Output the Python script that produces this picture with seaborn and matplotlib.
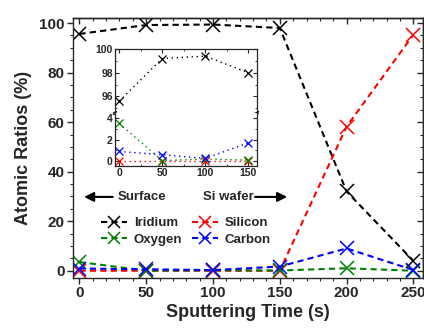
import seaborn as sns
import matplotlib.pyplot as plt
from matplotlib.ticker import MultipleLocator

# sputtering depth profile
time = [0, 50, 100, 150, 200, 250]
iridium = [95.6, 99.2, 99.4, 98.0, 32.0, 4.0]
silicon = [0.0, 0.0, 0.0, 0.0, 58.2, 95.3]
oxygen = [3.5, 0.05, 0.2, 0.1, 1.0, 0.0]
carbon = [0.9, 0.6, 0.25, 1.7, 9.0, 0.3]

names = ["Iridium", "Silicon", "Oxygen", "Carbon"]
series = [iridium, silicon, oxygen, carbon]
colors = ["#000000", "#ff0000", "#008000", "#0000ff"]

sns.set_style("ticks")
plt.rcParams["font.family"] = ["Liberation Sans", "DejaVu Sans"]
plt.rcParams["font.weight"] = "bold"
plt.rcParams["axes.labelweight"] = "bold"
plt.rcParams["axes.linewidth"] = 1.0

fig = plt.figure(figsize=(4.24, 3.29), dpi=100)
ax = fig.add_axes([0.1715, 0.156, 0.8255, 0.789])

lines = {}
for name, vals, c in zip(names, series, colors):
    sns.lineplot(x=time, y=vals, ax=ax, color=c, lw=1.5, dashes=(3, 2),
                 marker="x", markersize=10, markeredgewidth=1.1,
                 markeredgecolor=c, label=name, legend=False)
    lines[name] = ax.lines[-1]

ax.set_xlim(-5, 257)
ax.set_ylim(-2.8, 102)
ax.xaxis.set_major_locator(MultipleLocator(50))
ax.xaxis.set_minor_locator(MultipleLocator(10))
ax.yaxis.set_major_locator(MultipleLocator(20))
ax.yaxis.set_minor_locator(MultipleLocator(5))
ax.tick_params(which="major", direction="out", length=4, width=1, labelsize=11, pad=2)
ax.tick_params(which="minor", direction="out", length=2, width=0.8)

# mirrored ticks on top / right pointing inwards
top = ax.secondary_xaxis("top")
top.xaxis.set_major_locator(MultipleLocator(50))
top.xaxis.set_minor_locator(MultipleLocator(10))
top.tick_params(which="major", direction="in", length=4, width=1, labeltop=False)
top.tick_params(which="minor", direction="in", length=2, width=0.8)
right = ax.secondary_yaxis("right")
right.yaxis.set_major_locator(MultipleLocator(20))
right.yaxis.set_minor_locator(MultipleLocator(5))
right.tick_params(which="major", direction="in", length=4, width=1, labelright=False)
right.tick_params(which="minor", direction="in", length=2, width=0.8)

ax.set_xlabel("Sputtering Time (s)", fontsize=13, labelpad=3)
ax.set_ylabel("Atomic Ratios (%)", fontsize=13, labelpad=5)

# surface / substrate arrows
arrow = dict(arrowstyle="-|>", color="black", lw=1.5, mutation_scale=14,
             shrinkA=0, shrinkB=0)
ax.annotate("", xy=(3.5, 29.8), xytext=(25, 29.8), arrowprops=arrow)
ax.text(29, 29.8, "Surface", fontsize=9.5, va="center", ha="left")
ax.text(92.5, 29.8, "Si wafer", fontsize=9.5, va="center", ha="left")
ax.annotate("", xy=(155.5, 29.8), xytext=(131.5, 29.8), arrowprops=arrow)

order = ["Iridium", "Oxygen", "Silicon", "Carbon"]
ax.legend([lines[n] for n in order], order, loc="center left",
          bbox_to_anchor=(101 / 424, 1 - 231.5 / 329), bbox_transform=fig.transFigure,
          ncol=2, frameon=False, fontsize=9.5, handlelength=2.0, handletextpad=0.5,
          columnspacing=0.7, labelspacing=0.35, borderpad=0, borderaxespad=0,
          markerscale=0.9)

# inset with broken y axis
ax_hi = fig.add_axes([0.271, 0.6565, 0.335, 0.1945])
ax_lo = fig.add_axes([0.271, 0.4954, 0.335, 0.1611])
for a in (ax_hi, ax_lo):
    for name, vals, c in zip(names, series, colors):
        sns.lineplot(x=time[:4], y=vals[:4], ax=a, color=c, lw=1.0, dashes=(1, 2.6),
                     marker="x", markersize=6, markeredgewidth=0.9,
                     markeredgecolor=c, legend=False)
    a.set_xlim(-5, 160)
    a.xaxis.set_major_locator(MultipleLocator(50))
    a.xaxis.set_minor_locator(MultipleLocator(25))
    a.tick_params(which="major", direction="in", length=3, width=0.8, labelsize=7.5,
                  pad=1.5, top=True, right=True)
    a.tick_params(which="minor", direction="in", length=1.5, width=0.6, top=True, right=True)
    a.set_xlabel("")
    a.set_ylabel("")
    for s in a.spines.values():
        s.set_linewidth(0.9)

ax_hi.set_ylim(94.6, 100)
ax_hi.yaxis.set_major_locator(MultipleLocator(2))
ax_hi.yaxis.set_minor_locator(MultipleLocator(1))
ax_hi.spines["bottom"].set_visible(False)
ax_hi.tick_params(which="both", bottom=False, labelbottom=False)

ax_lo.set_ylim(-0.45, 4.47)
ax_lo.yaxis.set_major_locator(MultipleLocator(2))
ax_lo.yaxis.set_minor_locator(MultipleLocator(1))
ax_lo.spines["top"].set_visible(False)
ax_lo.tick_params(which="both", top=False)

# break marks on the inset y axis
for xb in (0, 1):
    for dy in (-0.012, 0.012):
        ax_hi.plot([xb - 0.012, xb + 0.012], [dy - 0.012, dy + 0.012],
                   transform=ax_hi.transAxes, color="black", lw=0.8, clip_on=False)

fig.savefig("out.png", dpi=100)
